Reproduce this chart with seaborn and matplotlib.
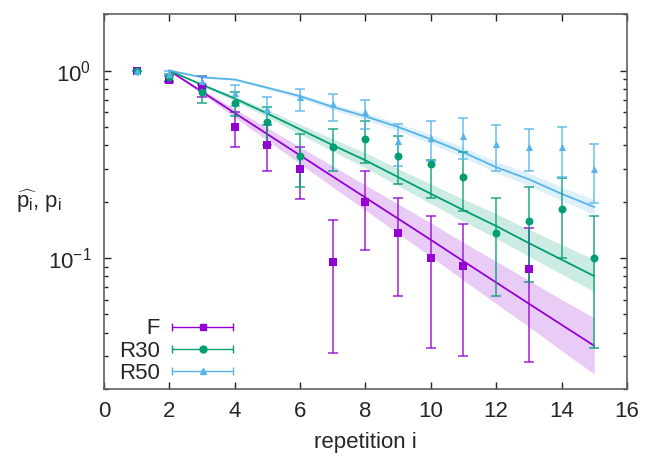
"""Decay of repetition probabilities for F, R30 and R50 on a log axis."""

import matplotlib
matplotlib.use("Agg")
import matplotlib.pyplot as plt
import matplotlib.ticker as mticker
import numpy as np
import pandas as pd
import seaborn as sns
from matplotlib.legend_handler import HandlerBase
from matplotlib.lines import Line2D

# measured points: repetition, estimate, lower / upper error bar
f_x = [1, 2, 3, 4, 5, 6, 7, 8, 9, 10, 11, 13]
f_y = [1.0, 0.89, 0.82, 0.50, 0.40, 0.30, 0.095, 0.20, 0.136, 0.10, 0.091, 0.087]
f_lo = [1.0, 0.87, 0.72, 0.39, 0.29, 0.206, 0.031, 0.11, 0.063, 0.033, 0.030, 0.028]
f_hi = [1.0, 0.94, 0.93, 0.60, 0.51, 0.39, 0.16, 0.29, 0.208, 0.167, 0.152, 0.145]

r30_x = [1, 2, 3, 4, 5, 6, 7, 8, 9, 10, 11, 12, 13, 14, 15]
r30_y = [1.0, 0.92, 0.764, 0.668, 0.529, 0.349, 0.389, 0.43, 0.349, 0.316,
         0.272, 0.136, 0.157, 0.182, 0.10]
r30_lo = [1.0, 0.88, 0.675, 0.57, 0.40, 0.24, 0.29, 0.32, 0.247, 0.21,
          0.178, 0.063, 0.074, 0.10, 0.033]
r30_hi = [1.0, 0.96, 0.84, 0.77, 0.64, 0.456, 0.49, 0.54, 0.446, 0.335,
          0.366, 0.208, 0.24, 0.267, 0.167]

r50_x = [1, 2, 3, 4, 5, 6, 7, 8, 9, 10, 11, 12, 13, 14, 15]
r50_y = [1.0, 0.96, 0.88, 0.76, 0.62, 0.72, 0.66, 0.60, 0.42, 0.435,
         0.45, 0.405, 0.39, 0.39, 0.30]
r50_lo = [1.0, 0.93, 0.80, 0.65, 0.51, 0.61, 0.54, 0.486, 0.31, 0.33,
          0.336, 0.29, 0.29, 0.27, 0.196]
r50_hi = [1.0, 0.99, 0.94, 0.84, 0.72, 0.80, 0.75, 0.70, 0.52, 0.54,
          0.555, 0.51, 0.49, 0.50, 0.405]

# model curves with confidence band
fit_x = [2, 3, 4, 5, 6, 7, 8, 9, 10, 11, 12, 13, 14, 15]
f_fit = [1.0, 0.771, 0.594, 0.458, 0.353, 0.272, 0.210, 0.162, 0.125,
         0.096, 0.074, 0.057, 0.044, 0.034]
f_band_lo = [1.0, 0.751, 0.564, 0.424, 0.318, 0.239, 0.180, 0.135, 0.102,
             0.076, 0.057, 0.043, 0.032, 0.024]
f_band_hi = [1.0, 0.791, 0.625, 0.495, 0.391, 0.310, 0.245, 0.194, 0.154,
             0.121, 0.096, 0.076, 0.060, 0.048]

r30_fit = [1.0, 0.84, 0.71, 0.59, 0.486, 0.40, 0.332, 0.27, 0.22, 0.18,
           0.148, 0.12, 0.098, 0.080]
r30_band_lo = [1.0, 0.828, 0.689, 0.564, 0.457, 0.371, 0.303, 0.243, 0.195,
               0.157, 0.127, 0.102, 0.082, 0.066]
r30_band_hi = [1.0, 0.853, 0.732, 0.618, 0.517, 0.432, 0.364, 0.300, 0.248,
               0.206, 0.172, 0.142, 0.118, 0.098]

r50_fit = [1.0, 0.921, 0.896, 0.81, 0.73, 0.64, 0.57, 0.50, 0.43, 0.366,
           0.305, 0.263, 0.22, 0.187]
r50_band_lo = [1.0, 0.914, 0.884, 0.793, 0.710, 0.618, 0.547, 0.476, 0.407,
               0.344, 0.285, 0.244, 0.203, 0.171]
r50_band_hi = [1.0, 0.928, 0.909, 0.827, 0.750, 0.662, 0.594, 0.525, 0.455,
               0.389, 0.327, 0.284, 0.239, 0.205]

x_ticks = [0, 2, 4, 6, 8, 10, 12, 14, 16]


class ErrorbarKey(HandlerBase):
    """gnuplot style key: horizontal bar with caps and the point in the middle."""

    def create_artists(self, legend, orig_handle, xdescent, ydescent,
                       width, height, fontsize, trans):
        y = height / 2 - ydescent
        x0, x1 = -xdescent, width - xdescent
        color = orig_handle.get_color()
        bar = Line2D([x0, x1], [y, y], color=color, lw=1.0)
        caps = Line2D([x0, x1], [y, y], ls="none", marker="|", ms=6,
                      mew=1.0, color=color)
        mark = Line2D([(x0 + x1) / 2], [y], ls="none",
                      marker=orig_handle.get_marker(),
                      ms=orig_handle.get_markersize(), color=color)
        for a in (bar, caps, mark):
            a.set_transform(trans)
        return [bar, caps, mark]


def main() -> None:
    sns.set_theme(style="ticks")
    plt.rcParams["font.family"] = ["Liberation Sans", "DejaVu Sans"]
    plt.rcParams["mathtext.fontset"] = "custom"
    plt.rcParams["mathtext.rm"] = "Liberation Sans"
    plt.rcParams["mathtext.it"] = "Liberation Sans"
    plt.rcParams["mathtext.bf"] = "Liberation Sans:bold"

    fig = plt.figure(figsize=(6.45, 4.57), dpi=100)
    ax = fig.add_axes([0.161, 0.149, 0.811, 0.820])

    series = [
        ("F", "#9400D3", "s", 5.0, f_x, f_y, f_lo, f_hi,
         f_fit, f_band_lo, f_band_hi),
        ("R30", "#009E73", "o", 5.0, r30_x, r30_y, r30_lo, r30_hi,
         r30_fit, r30_band_lo, r30_band_hi),
        ("R50", "#56B4E9", "^", 4.5, r50_x, r50_y, r50_lo, r50_hi,
         r50_fit, r50_band_lo, r50_band_hi),
    ]

    handles = []
    for name, color, marker, ms, xs, ys, lo, hi, fit, blo, bhi in series:
        ax.fill_between(fit_x, blo, bhi, color=color, alpha=0.2, lw=0)
        fit_df = pd.DataFrame({"x": fit_x, "y": fit})
        sns.lineplot(data=fit_df, x="x", y="y", ax=ax, color=color, lw=1.3)

    for name, color, marker, ms, xs, ys, lo, hi, fit, blo, bhi in series:
        ys_arr = np.array(ys)
        yerr = [ys_arr - np.array(lo), np.array(hi) - ys_arr]
        ax.errorbar(xs, ys, yerr=yerr, fmt="none", ecolor=color, alpha=0.8,
                    elinewidth=1.2, capsize=3.5, capthick=1.2)
        pts = pd.DataFrame({"x": xs, "y": ys})
        sns.scatterplot(data=pts, x="x", y="y", ax=ax, color=color,
                        marker=marker, s=ms ** 2 * 1.3, linewidth=0, zorder=3)
        handles.append(Line2D([], [], color=color, marker=marker,
                              markersize=ms, label=name))

    ax.set_yscale("log")
    ax.set_xlim(0, 16)
    ax.set_ylim(0.02, 2)
    ax.set_xticks(x_ticks)
    ax.yaxis.set_major_locator(mticker.LogLocator(base=10))
    ax.yaxis.set_minor_locator(mticker.LogLocator(base=10, subs=np.arange(2, 10)))
    ax.yaxis.set_minor_formatter(mticker.NullFormatter())

    ax.tick_params(which="both", direction="in", top=True, right=True,
                   labelsize=16, color="#222222", pad=9)
    ax.tick_params(which="major", length=5, width=1)
    ax.tick_params(which="minor", length=3, width=1)
    for s in ax.spines.values():
        s.set_color("#606060")
        s.set_linewidth(1.2)

    ax.set_xlabel("repetition i", fontsize=16, labelpad=7)
    ax.set_ylabel(r"$\widehat{p_\mathrm{i}}$, $p_\mathrm{i}$", fontsize=16,
                  rotation=0, ha="right", va="center")
    ax.yaxis.set_label_coords(-0.08, 0.5)

    labels = ["\u2007\u2007F", "R30", "R50"]
    ax.legend(handles, labels, handler_map={Line2D: ErrorbarKey()},
              loc="lower left", bbox_to_anchor=(0.029, 0.014), frameon=False,
              markerfirst=False, fontsize=16, handlelength=2.75,
              handletextpad=0.55, labelspacing=0.05, borderpad=0,
              borderaxespad=0)

    fig.savefig("out.png", dpi=100)
    plt.close(fig)


if __name__ == "__main__":
    main()
